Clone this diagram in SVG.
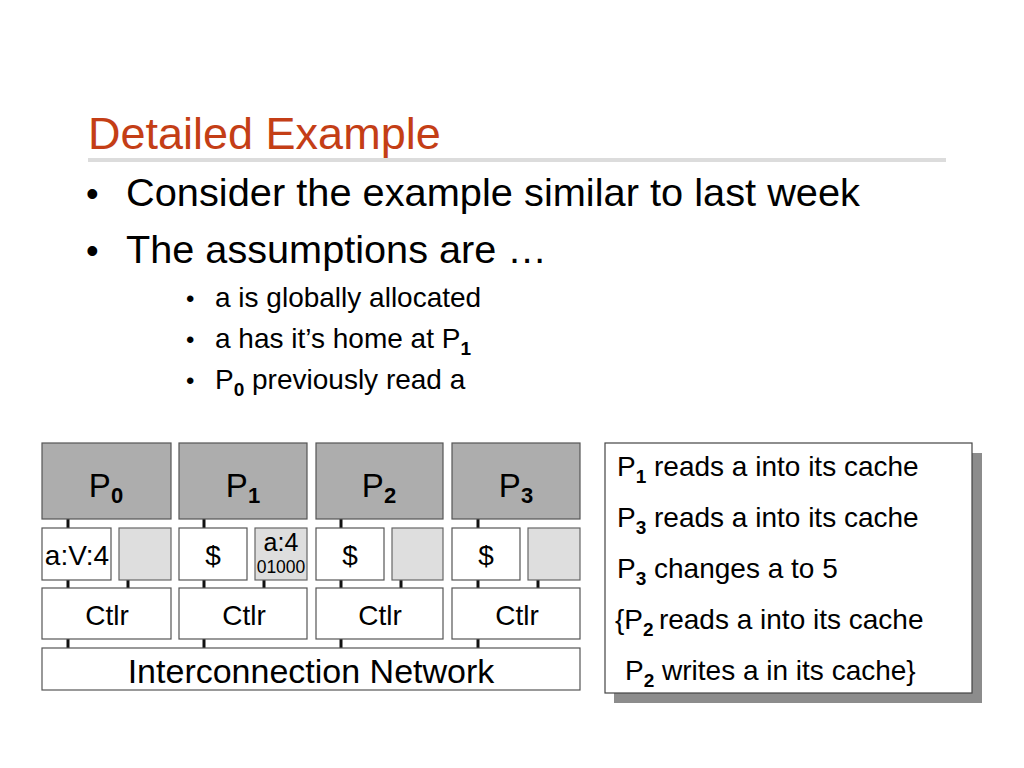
<svg xmlns="http://www.w3.org/2000/svg" width="1024" height="768" viewBox="0 0 1024 768">
<style>
text{font-family:"Liberation Sans",Arial,sans-serif;fill:#000}
.proc{fill:#adadad;stroke:#555;stroke-width:1.2}
.wbox{fill:#fff;stroke:#555;stroke-width:1.2}
.gbox{fill:#dedede;stroke:#666;stroke-width:1.2}
.pl{font-size:33px;text-anchor:middle}
.sub{font-weight:bold}
.cl{font-size:28px;text-anchor:middle}
.tl{font-size:28px}
.conn line{stroke:#111;stroke-width:3}
</style>
<rect width="1024" height="768" fill="#fff"/>
<text x="88" y="149" style="font-size:45px;fill:#c43e16">Detailed Example</text>
<rect x="88" y="158" width="858" height="4" fill="#dcdcdc"/>
<text x="86" y="206" style="font-size:36px">•</text>
<text x="126" y="206" style="font-size:39px" textLength="734" lengthAdjust="spacingAndGlyphs">Consider the example similar to last week</text>
<text x="86" y="263" style="font-size:36px">•</text>
<text x="126" y="263" style="font-size:39px" textLength="421" lengthAdjust="spacingAndGlyphs">The assumptions are …</text>
<g style="font-size:28px">
<text x="186" y="307" style="font-size:24px">•</text><text x="215" y="307">a is globally allocated</text>
<text x="186" y="348" style="font-size:24px">•</text><text x="215" y="348">a has it’s home at P<tspan class="sub" dy="7" font-size="19">1</tspan></text>
<text x="186" y="389" style="font-size:24px">•</text><text x="215" y="389">P<tspan class="sub" dy="7" font-size="19">0</tspan><tspan dy="-7"> previously read a</tspan></text>
</g>
<g class="conn">
<line x1="68" y1="519" x2="68" y2="528"/><line x1="68" y1="580" x2="68" y2="588"/><line x1="128" y1="580" x2="128" y2="588"/><line x1="68" y1="639" x2="68" y2="648"/>
<line x1="204" y1="519" x2="204" y2="528"/><line x1="204" y1="580" x2="204" y2="588"/><line x1="264" y1="580" x2="264" y2="588"/><line x1="204" y1="639" x2="204" y2="648"/>
<line x1="341" y1="519" x2="341" y2="528"/><line x1="341" y1="580" x2="341" y2="588"/><line x1="401" y1="580" x2="401" y2="588"/><line x1="341" y1="639" x2="341" y2="648"/>
<line x1="478" y1="519" x2="478" y2="528"/><line x1="478" y1="580" x2="478" y2="588"/><line x1="538" y1="580" x2="538" y2="588"/><line x1="478" y1="639" x2="478" y2="648"/>
</g>
<g id="node0">
<rect class="proc" x="42" y="443" width="129" height="76"/>
<text class="pl" x="106" y="497">P<tspan class="sub" font-size="22" dy="6">0</tspan></text>
<rect class="wbox" x="42" y="528" width="69" height="52"/>
<text class="cl" x="77" y="565">a:V:4</text>
<rect class="gbox" x="119" y="528" width="52" height="52"/>
<rect class="wbox" x="42" y="588" width="129" height="51"/>
<text class="cl" x="107" y="625">Ctlr</text>
</g>
<g id="node1">
<rect class="proc" x="179" y="443" width="128" height="76"/>
<text class="pl" x="243" y="497">P<tspan class="sub" font-size="22" dy="6">1</tspan></text>
<rect class="wbox" x="179" y="528" width="68" height="52"/>
<text class="cl" x="213" y="565">$</text>
<rect class="gbox" x="255" y="528" width="52" height="52"/>
<text x="281" y="551" style="font-size:25px;text-anchor:middle">a:4</text>
<text x="281" y="573" style="font-size:17.5px;text-anchor:middle">01000</text>
<rect class="wbox" x="179" y="588" width="128" height="51"/>
<text class="cl" x="244" y="625">Ctlr</text>
</g>
<g id="node2">
<rect class="proc" x="316" y="443" width="127" height="76"/>
<text class="pl" x="379" y="497">P<tspan class="sub" font-size="22" dy="6">2</tspan></text>
<rect class="wbox" x="316" y="528" width="68" height="52"/>
<text class="cl" x="350" y="565">$</text>
<rect class="gbox" x="392" y="528" width="51" height="52"/>
<rect class="wbox" x="316" y="588" width="127" height="51"/>
<text class="cl" x="380" y="625">Ctlr</text>
</g>
<g id="node3">
<rect class="proc" x="452" y="443" width="128" height="76"/>
<text class="pl" x="516" y="497">P<tspan class="sub" font-size="22" dy="6">3</tspan></text>
<rect class="wbox" x="452" y="528" width="68" height="52"/>
<text class="cl" x="486" y="565">$</text>
<rect class="gbox" x="528" y="528" width="52" height="52"/>
<rect class="wbox" x="452" y="588" width="128" height="51"/>
<text class="cl" x="517" y="625">Ctlr</text>
</g>
<g id="network">
<rect class="wbox" x="42" y="648" width="538" height="42"/>
<text x="311" y="683" style="font-size:34px;text-anchor:middle">Interconnection Network</text>
</g>
<g id="notes">
<rect x="614" y="453" width="368" height="250" fill="#8c8c8c"/>
<rect x="605" y="443" width="367" height="250" fill="#fff" stroke="#444" stroke-width="1.2"/>
<text class="tl" x="617" y="476">P<tspan class="sub" font-size="19" dy="7">1</tspan><tspan dy="-7"> reads a into its cache</tspan></text>
<text class="tl" x="617" y="527">P<tspan class="sub" font-size="19" dy="7">3</tspan><tspan dy="-7"> reads a into its cache</tspan></text>
<text class="tl" x="617" y="578">P<tspan class="sub" font-size="19" dy="7">3</tspan><tspan dy="-7"> changes a to 5</tspan></text>
<text class="tl" x="615" y="629">{P<tspan class="sub" font-size="19" dy="7">2 </tspan><tspan dy="-7">reads a into its cache</tspan></text>
<text class="tl" x="625" y="680">P<tspan class="sub" font-size="19" dy="7">2</tspan><tspan dy="-7"> writes a in its cache}</tspan></text>
</g>
</svg>
